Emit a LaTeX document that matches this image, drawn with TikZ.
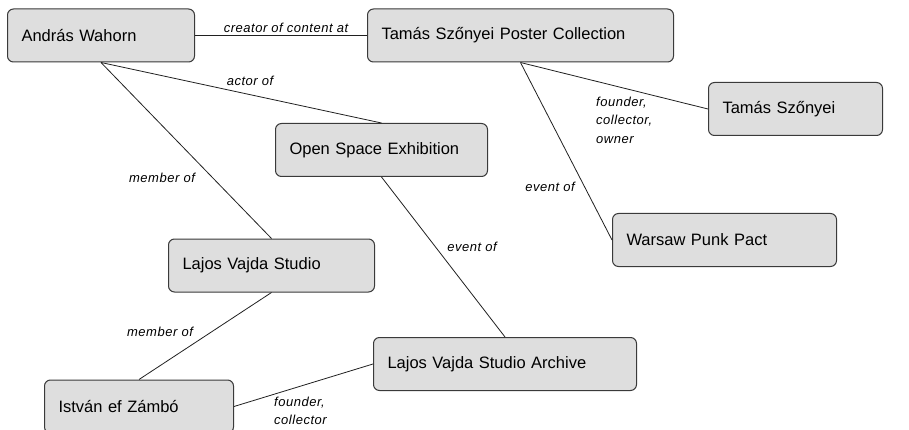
\documentclass[tikz,border=0pt]{standalone}
\usepackage{fontspec}
\setmainfont{Liberation Sans}
\newfontfamily\linkfont[LetterSpace=4]{Liberation Sans}

\definecolor{boxfill}{HTML}{DEDEDE}
\definecolor{boxline}{HTML}{3A3A3A}
\definecolor{linkline}{HTML}{202020}

\begin{document}
\begin{tikzpicture}[x=1pt, y=-1pt,
        entity/.style={draw=boxline, fill=boxfill, line width=1pt, rounded corners=6pt,
            minimum height=53pt, inner xsep=14pt, anchor=west, align=left,
            font=\fontsize{16.5}{19}\selectfont},
        link/.style={draw=linkline, line width=0.8pt},
        rel/.style={inner sep=0pt, align=left, font=\linkfont\itshape\fontsize{13}{18.5}\selectfont}]
                \useasboundingbox (0, 0) rectangle (909, 430);

                \node[entity, text width=159pt] (wahorn) at (7, 35.5) {András Wahorn};

                \node[entity, text width=278pt] (poster) at (367, 35.5) {Tamás Szőnyei Poster Collection};

                \node[entity, text width=146pt] (szonyei) at (708, 109) {Tamás Szőnyei};

                \node[entity, text width=184pt] (openspace) at (275, 150) {Open Space Exhibition};

                \node[entity, text width=178pt] (studio) at (168, 265.5) {Lajos Vajda Studio};

                \node[entity, text width=161pt] (zambo) at (44, 406.5) {István ef Zámbó};

                \node[entity, text width=235pt] (archive) at (373, 364) {Lajos Vajda Studio Archive};

                \node[entity, text width=196pt] (punk) at (612, 240) {Warsaw Punk Pact};

                \draw[link] (wahorn) -- (poster);

                \draw[link] (wahorn.south) -- (openspace.north);

                \draw[link] (wahorn.south) -- (studio.north);

                \draw[link] (studio.south) -- (zambo.north);

                \draw[link] (openspace.south) -- (archive.north);

                \draw[link] (poster.south) -- (szonyei.west);

                \draw[link] (poster.south) -- (punk.west);

                \draw[link] (zambo.east) -- (archive.west);

                \node[rel] (creatorlbl) at (286, 27.5) {creator of content at};

                \node[rel] (actorlbl) at (250, 81) {actor of};

                \node[rel] (memberlbl) at (162, 178) {member of};

                \node[rel] (memberlblb) at (160, 332) {member of};

                \node[rel] (eventlbl) at (472, 247) {event of};

                \node[rel] (eventlblb) at (550, 187) {event of};

                \node[rel, anchor=west] (founderlbl) at (596, 120) {founder,\\collector,\\owner};

                \node[rel, anchor=west] (founderlblb) at (274, 411) {founder,\\collector};
            \end{tikzpicture}
\end{document}
